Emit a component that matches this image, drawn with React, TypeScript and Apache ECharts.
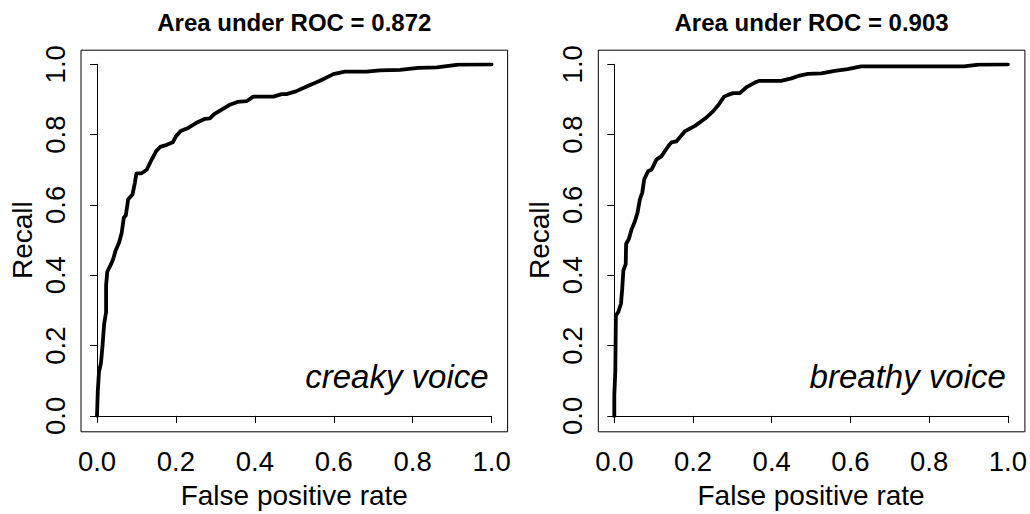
import React, { useEffect, useRef } from "react";
import * as echarts from "echarts";

// ---- data ----
const creakyFpr = [0, 0.002, 0.005, 0.01, 0.014, 0.018, 0.023, 0.023, 0.026, 0.035, 0.041, 0.047, 0.056, 0.0625, 0.068, 0.073, 0.079, 0.09, 0.096, 0.1, 0.113, 0.126, 0.139, 0.15, 0.16, 0.177, 0.192, 0.2, 0.212, 0.231, 0.251, 0.274, 0.286, 0.297, 0.316, 0.335, 0.356, 0.379, 0.396, 0.447, 0.468, 0.48, 0.504, 0.527, 0.565, 0.599, 0.628, 0.683, 0.717, 0.768, 0.814, 0.861, 0.916, 1.0];
const creakyTpr = [0, 0.07, 0.125, 0.15, 0.2, 0.26, 0.295, 0.37, 0.41, 0.43, 0.446, 0.47, 0.493, 0.52, 0.564, 0.57, 0.616, 0.63, 0.663, 0.69, 0.69, 0.7, 0.73, 0.753, 0.765, 0.771, 0.778, 0.795, 0.81, 0.819, 0.833, 0.845, 0.846, 0.858, 0.871, 0.884, 0.893, 0.895, 0.908, 0.908, 0.915, 0.915, 0.923, 0.935, 0.953, 0.972, 0.979, 0.979, 0.983, 0.984, 0.99, 0.991, 0.999, 1.0];

const breathyFpr = [0, 0, 0.0025, 0.004, 0.01, 0.017, 0.02, 0.023, 0.029, 0.03, 0.037, 0.044, 0.052, 0.059, 0.065, 0.071, 0.076, 0.086, 0.095, 0.107, 0.12, 0.137, 0.145, 0.158, 0.179, 0.205, 0.23, 0.251, 0.265, 0.279, 0.289, 0.302, 0.319, 0.336, 0.357, 0.369, 0.424, 0.45, 0.471, 0.492, 0.526, 0.56, 0.593, 0.627, 0.888, 0.926, 1.0];
const breathyTpr = [0, 0.06, 0.125, 0.286, 0.295, 0.319, 0.36, 0.413, 0.432, 0.489, 0.503, 0.531, 0.552, 0.578, 0.616, 0.635, 0.673, 0.696, 0.701, 0.729, 0.739, 0.767, 0.778, 0.781, 0.809, 0.825, 0.845, 0.866, 0.885, 0.908, 0.913, 0.918, 0.918, 0.935, 0.948, 0.953, 0.953, 0.96, 0.968, 0.973, 0.974, 0.981, 0.986, 0.994, 0.994, 0.999, 1.0];

const panelTitles = ["Area under ROC = 0.872", "Area under ROC = 0.903"];
const panelLabels = ["creaky voice", "breathy voice"];
const xAxisTitle = "False positive rate";
const yAxisTitle = "Recall";

// ---- layout ----
const FONT = "'Liberation Sans', Arial, Helvetica, sans-serif";
const PLOT_TOP = 64.3;
const PLOT_H = 353.4;
const PLOT_W = 394.6;
const PAD_X = 16; // R's 4% range extension, x
const PAD_Y = 14.1; // y
const panelLefts = [97, 614.3];

function pairs(xs: number[], ys: number[]) {
  return xs.map((x, i) => [x, ys[i]]);
}

export default function App() {
  const ref = useRef<HTMLDivElement>(null);
  useEffect(() => {
    if (!ref.current) return;
    const chart = echarts.init(ref.current, undefined, { renderer: "svg" });
    const seriesData = [pairs(creakyFpr, creakyTpr), pairs(breathyFpr, breathyTpr)];

    const grids = panelLefts.map((l) => ({
      left: l,
      top: PLOT_TOP,
      width: PLOT_W,
      height: PLOT_H,
      containLabel: false,
    }));

    const xAxes = panelLefts.map((_, i) => ({
      type: "value",
      gridIndex: i,
      min: 0,
      max: 1,
      interval: 0.2,
      offset: PAD_Y,
      splitLine: { show: false },
      axisLine: { show: true, lineStyle: { color: "#000", width: 1 } },
      axisTick: { show: true, length: 7, inside: false, lineStyle: { color: "#000", width: 1 } },
      axisLabel: {
        color: "#000",
        fontFamily: FONT,
        fontSize: 27.5,
        margin: 17,
        formatter: (v: number) => v.toFixed(1),
      },
      name: xAxisTitle,
      nameLocation: "middle",
      nameGap: 51,
      nameTextStyle: { color: "#000", fontFamily: FONT, fontSize: 28 },
    }));

    const yAxes = panelLefts.map((_, i) => ({
      type: "value",
      gridIndex: i,
      min: 0,
      max: 1,
      interval: 0.2,
      offset: PAD_X,
      splitLine: { show: false },
      axisLine: { show: true, lineStyle: { color: "#000", width: 1 } },
      axisTick: { show: true, length: 7, inside: false, lineStyle: { color: "#000", width: 1 } },
      axisLabel: {
        color: "#000",
        fontFamily: FONT,
        fontSize: 27.5,
        rotate: 90,
        margin: 12,
        formatter: (v: number) => v.toFixed(1),
      },
      name: yAxisTitle,
      nameLocation: "middle",
      nameGap: 45,
      nameTextStyle: { color: "#000", fontFamily: FONT, fontSize: 28 },
    }));

    const graphics: any[] = [];
    panelLefts.forEach((l, i) => {
      const cx = l + PLOT_W / 2;
      graphics.push({
        type: "rect",
        shape: {
          x: l - PAD_X,
          y: PLOT_TOP - PAD_Y,
          width: PLOT_W + 2 * PAD_X,
          height: PLOT_H + 2 * PAD_Y,
        },
        style: { fill: "none", stroke: "#000", lineWidth: 1 },
        silent: true,
        z: 1,
      });
      graphics.push({
        type: "text",
        x: cx,
        y: 22.5,
        style: {
          text: panelTitles[i],
          fill: "#000",
          font: `bold 24px ${FONT}`,
          textAlign: "center",
          textVerticalAlign: "middle",
        },
      });
      graphics.push({
        type: "text",
        x: l + PLOT_W - 3,
        y: 376,
        style: {
          text: panelLabels[i],
          fill: "#000",
          font: `italic 33px ${FONT}`,
          textAlign: "right",
          textVerticalAlign: "middle",
        },
      });
    });

    chart.setOption({
      animation: false,
      backgroundColor: "#fff",
      grid: grids,
      xAxis: xAxes,
      yAxis: yAxes,
      graphic: graphics,
      series: seriesData.map((d, i) => ({
        type: "line",
        xAxisIndex: i,
        yAxisIndex: i,
        data: d,
        showSymbol: false,
        symbol: "none",
        smooth: false,
        lineStyle: { color: "#000", width: 3.8, cap: "round", join: "round" },
        z: 3,
      })),
    });
    return () => chart.dispose();
  }, []);
  return (
    <div
      ref={ref}
      style={{ position: "fixed", left: 0, top: 0, width: 1030, height: 514, background: "#fff" }}
    />
  );
}
